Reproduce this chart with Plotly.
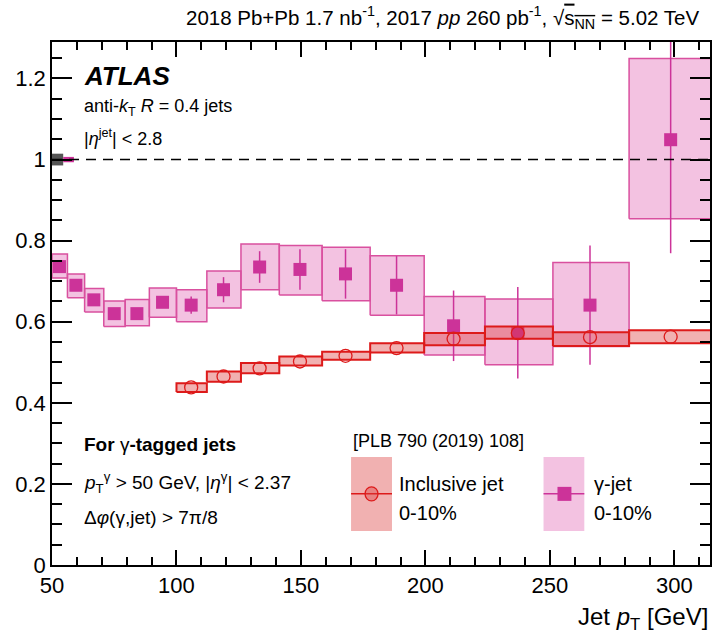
import plotly.graph_objects as go

# ---------------- data ----------------
# gamma-tagged jets (0-10%)
gj_edges = [50, 56.2, 63.1, 70.8, 79.4, 89.1, 100, 112.2, 125.9, 141.3, 158.5, 177.8, 199.5, 223.9, 251.2, 281.8, 316.2]
gj_x = [53.0, 59.6, 66.8, 75.0, 84.1, 94.4, 105.9, 118.9, 133.4, 149.6, 167.9, 188.4, 211.3, 237.1, 266.1, 298.5]
gj_y = [0.736, 0.690, 0.654, 0.620, 0.620, 0.648, 0.641, 0.679, 0.735, 0.729, 0.718, 0.690, 0.590, 0.573, 0.641, 1.049]
gj_stat = [0.008, 0.008, 0.008, 0.008, 0.008, 0.008, 0.021, 0.031, 0.039, 0.050, 0.061, 0.072, 0.087, 0.113, 0.147, 0.280]
gj_sys_lo = [0.708, 0.659, 0.624, 0.588, 0.590, 0.611, 0.600, 0.634, 0.679, 0.666, 0.652, 0.616, 0.518, 0.494, 0.539, 0.854]
gj_sys_hi = [0.767, 0.718, 0.682, 0.651, 0.655, 0.683, 0.679, 0.725, 0.792, 0.788, 0.784, 0.763, 0.662, 0.656, 0.746, 1.249]

# inclusive jets (0-10%), PLB 790 (2019) 108
inc_edges = [100, 112.2, 125.9, 141.3, 158.5, 177.8, 199.5, 223.9, 251.2, 281.8, 316.2]
inc_x = [105.9, 118.9, 133.4, 149.6, 167.9, 188.4, 211.3, 237.1, 266.1, 298.5]
inc_y = [0.438, 0.465, 0.485, 0.502, 0.516, 0.535, 0.558, 0.572, 0.562, 0.563]
inc_sys_lo = [0.427, 0.452, 0.473, 0.492, 0.506, 0.524, 0.542, 0.558, 0.540, 0.547]
inc_sys_hi = [0.448, 0.477, 0.498, 0.514, 0.526, 0.547, 0.572, 0.588, 0.574, 0.579]

# normalisation uncertainties drawn at unity
norm_edges = [50, 54.5, 58.8]
norm_unc = [0.0145, 0.0066]

x_ticks = [50, 100, 150, 200, 250, 300]
y_ticks = [0, 0.2, 0.4, 0.6, 0.8, 1, 1.2]

# ---------------- styles ----------------
FONT = "Liberation Sans, Arial, sans-serif"
MAG = "#cc3399"
MAG_LINE = "#d9509f"
MAG_FILL = "rgba(220,80,170,0.35)"
RED = "#dd1a1a"
RED_FILL = "rgba(220,60,60,0.40)"


def boxes(edges, lo, hi):
    xs, ys = [], []
    for i in range(len(lo)):
        x0, x1 = edges[i], edges[i + 1]
        xs += [x0, x1, x1, x0, x0, None]
        ys += [lo[i], lo[i], hi[i], hi[i], lo[i], None]
    return xs, ys


fig = go.Figure()

# gamma-jet systematic boxes
bx, by = boxes(gj_edges, gj_sys_lo, gj_sys_hi)
fig.add_trace(go.Scatter(x=bx, y=by, mode="lines", fill="toself", fillcolor=MAG_FILL,
                         line=dict(color=MAG_LINE, width=1.5), hoverinfo="skip", showlegend=False))
# gamma-jet points
fig.add_trace(go.Scatter(x=gj_x, y=gj_y, mode="markers",
                         marker=dict(symbol="square", size=13, color=MAG),
                         error_y=dict(type="data", array=gj_stat, color=MAG, thickness=1.5, width=0),
                         showlegend=False))

# inclusive systematic boxes
rx, ry = boxes(inc_edges, inc_sys_lo, inc_sys_hi)
fig.add_trace(go.Scatter(x=rx, y=ry, mode="lines", fill="toself", fillcolor=RED_FILL,
                         line=dict(color=RED, width=2), hoverinfo="skip", showlegend=False))
fig.add_trace(go.Scatter(x=inc_x, y=inc_y, mode="markers",
                         marker=dict(symbol="circle-open", size=13, color=RED, line=dict(width=1.3)),
                         showlegend=False))

# normalisation boxes at 1
nx, ny = boxes(norm_edges, [1 - u for u in norm_unc], [1 + u for u in norm_unc])
fig.add_trace(go.Scatter(x=nx[:6], y=ny[:6], mode="lines", fill="toself", fillcolor="#555555",
                         line=dict(width=0), hoverinfo="skip", showlegend=False))
fig.add_trace(go.Scatter(x=nx[6:], y=ny[6:], mode="lines", fill="toself", fillcolor=MAG,
                         line=dict(width=0), hoverinfo="skip", showlegend=False))

shapes = [
    dict(type="line", xref="paper", yref="y", x0=0, x1=1, y0=1, y1=1,
         line=dict(color="black", width=1.5, dash="10px,7px"), layer="above"),
    # legend: inclusive
    dict(type="rect", xref="paper", yref="paper", x0=0.4545, x1=0.5167, y0=0.065, y1=0.2065,
         fillcolor=RED_FILL, line=dict(width=0)),
    dict(type="line", xref="paper", yref="paper", x0=0.4545, x1=0.5167, y0=0.136, y1=0.136,
         line=dict(color=RED, width=1.5)),
    dict(type="circle", xref="paper", yref="paper", x0=0.4757, x1=0.4955, y0=0.1226, y1=0.1494,
         fillcolor=RED_FILL, line=dict(color=RED, width=1.3)),
    # legend: gamma-jet
    dict(type="rect", xref="paper", yref="paper", x0=0.747, x1=0.809, y0=0.065, y1=0.2065,
         fillcolor=MAG_FILL, line=dict(width=0)),
    dict(type="line", xref="paper", yref="paper", x0=0.747, x1=0.809, y0=0.136, y1=0.136,
         line=dict(color=MAG, width=1.5)),
    dict(type="rect", xref="paper", yref="paper", x0=0.7682, x1=0.7894, y0=0.1226, y1=0.1494,
         fillcolor=MAG, line=dict(width=0)),
]

ann = []


def add(text, x, y, size=19, xanchor="left", **kw):
    ann.append(dict(text=text, x=x, y=y, xref="paper", yref="paper", xanchor=xanchor,
                    yanchor="middle", showarrow=False, font=dict(family=FONT, size=size, color="black"), **kw))


add("2018 Pb+Pb 1.7 nb<sup>-1</sup>, 2017 <i>pp</i> 260 pb<sup>-1</sup>, "
    "\u221a<span style='text-decoration:overline'>s<sub>NN</sub></span> = 5.02 TeV",
    0.986, 1.046, size=20.5, xanchor="right")
add("<b><i>ATLAS</i></b>", 0.0455, 0.935, size=26)
add("anti-<i>k</i><sub>T</sub> <i>R</i> = 0.4 jets", 0.0455, 0.874, size=18)
add("|<i>\u03b7</i><sup>jet</sup>| < 2.8", 0.0455, 0.8165, size=18)
add("<b>For </b>\u03b3<b>-tagged jets</b>", 0.0455, 0.231, size=19)
add("<i>p</i><sub>T</sub><sup>\u03b3</sup> > 50 GeV, |<i>\u03b7</i><sup>\u03b3</sup>| < 2.37", 0.0455, 0.157, size=19)
add("\u0394<i>\u03c6</i>(\u03b3,jet) > 7\u03c0/8", 0.0455, 0.0899, size=19)
add("[PLB 790 (2019) 108]", 0.4545, 0.237, size=18)
add("Inclusive jet", 0.524, 0.155, size=20)
add("0-10%", 0.524, 0.0994, size=20)
add("\u03b3-jet", 0.821, 0.155, size=20)
add("0-10%", 0.821, 0.0994, size=20)
add("Jet <i>p</i><sub>T</sub> [GeV]", 1.0, -0.102, size=24, xanchor="right")

fig.update_layout(
    width=717, height=642,
    margin=dict(l=52, r=5, t=42, b=77),
    paper_bgcolor="white", plot_bgcolor="white",
    font=dict(family=FONT, size=22, color="black"),
    shapes=shapes, annotations=ann, showlegend=False,
    xaxis=dict(range=[50, 314.3], tickvals=x_ticks, ticks="inside", ticklen=15, tickwidth=1.5,
               tickcolor="black", showline=True, linecolor="black", linewidth=1.5, mirror="ticks",
               showgrid=False, zeroline=False, tickfont=dict(size=22), ticklabelstandoff=0,
               minor=dict(ticks="inside", ticklen=8, tickwidth=1.5, tickcolor="black", dtick=10, tick0=50,
                          showgrid=False)),
    yaxis=dict(range=[0, 1.29], tickvals=y_ticks, ticks="inside", ticklen=20, tickwidth=1.5,
               tickcolor="black", showline=True, linecolor="black", linewidth=1.5, mirror="ticks",
               showgrid=False, zeroline=False, tickfont=dict(size=22),
               minor=dict(ticks="inside", ticklen=10, tickwidth=1.5, tickcolor="black", dtick=0.05, tick0=0,
                          showgrid=False)),
)

fig.write_html("out.html")
